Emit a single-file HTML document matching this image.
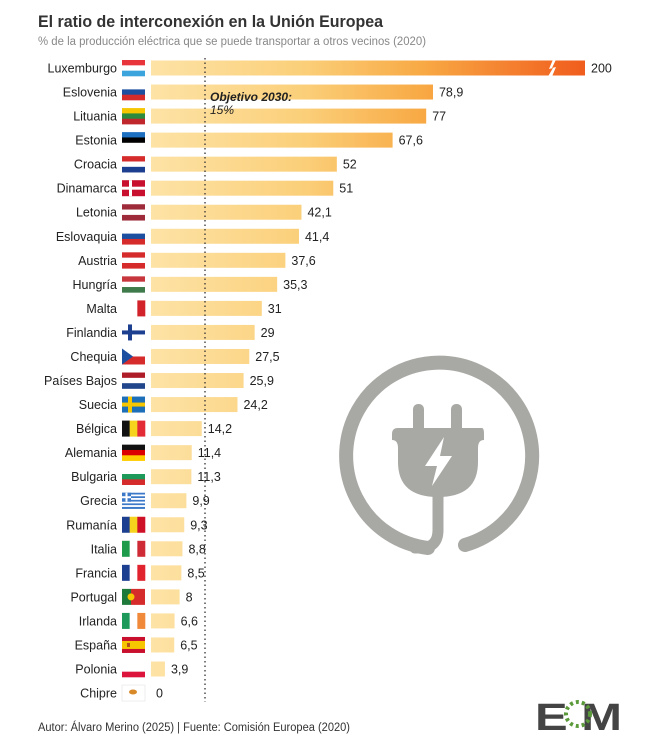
<!DOCTYPE html>
<html><head><meta charset="utf-8"><style>
body{margin:0;background:#fff;}
svg{display:block;font-family:"Liberation Sans",sans-serif;}
</style></head><body>
<svg id="chart" width="665" height="751" viewBox="0 0 665 751">
<defs>
<linearGradient id="bg" gradientUnits="userSpaceOnUse" x1="151" y1="0" x2="590" y2="0">
<stop offset="0" stop-color="#fde3a6"/><stop offset="0.35" stop-color="#fbcf79"/><stop offset="0.62" stop-color="#f8a944"/><stop offset="1" stop-color="#f05a1c"/>
</linearGradient>
</defs>
<text x="38" y="27" font-size="17" font-weight="bold" fill="#333" textLength="345" lengthAdjust="spacingAndGlyphs">El ratio de interconexión en la Unión Europea</text>
<text x="38" y="45" font-size="11.5" fill="#888" textLength="388" lengthAdjust="spacingAndGlyphs">% de la producción eléctrica que se puede transportar a otros vecinos (2020)</text>
<g id="bars"></g>
<line x1="205" y1="58" x2="205" y2="702" stroke="#333" stroke-width="1.3" stroke-dasharray="1.5,3"/>
<text x="210" y="101" font-size="12" font-weight="bold" font-style="italic" fill="#222">Objetivo 2030:</text>
<text x="210" y="114" font-size="12" font-style="italic" fill="#222">15%</text>
<g fill="#a8a8a4" stroke="#a8a8a4">
<path d="M428 548 A93 93 0 1 1 465 545" fill="none" stroke-width="14" stroke-linecap="round"/>
<path d="M438 495 L438 530 Q438 548 420 548 L415 548" fill="none" stroke-width="11" stroke-linecap="round"/>
<rect x="413" y="404" width="11" height="30" rx="5" stroke="none"/>
<rect x="451" y="404" width="11" height="30" rx="5" stroke="none"/>
<path d="M394 428 L482 428 Q484 428 484 434 L484 440 Q478 440 478 448 L478 462 Q478 497 438 497 Q398 497 398 462 L398 448 Q398 440 392 440 L392 434 Q392 428 398 428Z" stroke="none"/>
<path d="M444 437 L425 466 L437 466 L432 486 L452 456 L440 456 Z" fill="#fff" stroke="none"/>
</g>
<text x="38" y="731" font-size="11.5" fill="#333" textLength="312" lengthAdjust="spacingAndGlyphs">Autor: Álvaro Merino (2025) | Fuente: Comisión Europea (2020)</text>
<g>
<text x="535" y="730" font-size="38" font-weight="bold" fill="#444" textLength="87" lengthAdjust="spacingAndGlyphs">E  M</text>
<circle cx="578" cy="714" r="12" fill="none" stroke="#5a9a3a" stroke-width="4" stroke-dasharray="3,3"/>
</g>
</svg>
<script>
const countries=["Luxemburgo","Eslovenia","Lituania","Estonia","Croacia","Dinamarca","Letonia","Eslovaquia","Austria","Hungría","Malta","Finlandia","Chequia","Países Bajos","Suecia","Bélgica","Alemania","Bulgaria","Grecia","Rumanía","Italia","Francia","Portugal","Irlanda","España","Polonia","Chipre"];
const values=[200,78.9,77,67.6,52,51,42.1,41.4,37.6,35.3,31,29,27.5,25.9,24.2,14.2,11.4,11.3,9.9,9.3,8.8,8.5,8,6.6,6.5,3.9,0];
const valueLabels=["200","78,9","77","67,6","52","51","42,1","41,4","37,6","35,3","31","29","27,5","25,9","24,2","14,2","11,4","11,3","9,9","9,3","8,8","8,5","8","6,6","6,5","3,9","0"];
const flags=[["h","#e8343b","#fff","#3ba4dc"],["h","#fff","#1d4fa0","#d62b2b"],["h","#f6c600","#2b8a3e","#c0272d"],["h","#1d6fc0","#000","#fff"],["h","#d62b2b","#fff","#1d3f8f"],["dk"],["h","#9e2b3a","#fff","#9e2b3a"],["h","#fff","#1d4fa0","#d62b2b"],["h","#d62b2b","#fff","#d62b2b"],["h","#c6363c","#fff","#3f7a4a"],["v","#fff","#fff","#d2232a"],["fi"],["cz"],["h","#ae1c28","#fff","#21468b"],["se"],["v","#111","#f6d31c","#e32b36"],["h","#111","#dd0000","#ffce00"],["h","#fff","#1d9a5a","#d62b2b"],["gr"],["v","#1d3f8f","#f6d31c","#ce1126"],["v","#1d9a4a","#fff","#ce2b37"],["v","#1d3f8f","#fff","#e1232d"],["pt"],["v","#1d9a5a","#fff","#f08a3a"],["es"],["h","#fff","#fff","#dc143c"],["cy"]];
const x0=151, pxPer=3.574, xCapEnd=585, y0=68, step=24.04, bh=15;
const xScale=v=>x0+Math.min(v*pxPer,xCapEnd-x0);
const yScale=i=>y0+i*step;
const NS="http://www.w3.org/2000/svg";
const g=document.getElementById("bars");
function mk(t,a,p){const e=document.createElementNS(NS,t);for(const k in a)e.setAttribute(k,a[k]);(p||g).appendChild(e);return e;}
countries.forEach((c,i)=>{
 const y=yScale(i);
 const lab=mk("text",{x:117,y:y+4.5,"font-size":"12.5","text-anchor":"end",fill:"#222"});
 lab.textContent=c;
 
 
 const fg=mk("g",{});
 
 
 const fx=122,fy=y-8,fw=23,fh=16,f=flags[i];
 if(f[0]==="h"){for(let k=0;k<3;k++)mk("rect",{x:fx,y:fy+k*fh/3,width:fw,height:fh/3+0.3,fill:f[k+1]},fg);}
 else if(f[0]==="v"){for(let k=0;k<3;k++)mk("rect",{x:fx+k*fw/3,y:fy,width:fw/3+0.3,height:fh,fill:f[k+1]},fg);}
 else if(f[0]==="dk"){mk("rect",{x:fx,y:fy,width:fw,height:fh,fill:"#c8102e"},fg);mk("rect",{x:fx+7,y:fy,width:3,height:fh,fill:"#fff"},fg);mk("rect",{x:fx,y:fy+6.5,width:fw,height:3,fill:"#fff"},fg);}
 else if(f[0]==="fi"){mk("rect",{x:fx,y:fy,width:fw,height:fh,fill:"#fff"},fg);mk("rect",{x:fx+6,y:fy,width:4,height:fh,fill:"#1d3f8f"},fg);mk("rect",{x:fx,y:fy+6,width:fw,height:4,fill:"#1d3f8f"},fg);}
 else if(f[0]==="se"){mk("rect",{x:fx,y:fy,width:fw,height:fh,fill:"#1d6fb8"},fg);mk("rect",{x:fx+6,y:fy,width:4,height:fh,fill:"#f6c600"},fg);mk("rect",{x:fx,y:fy+6,width:fw,height:4,fill:"#f6c600"},fg);}
 else if(f[0]==="cz"){mk("rect",{x:fx,y:fy,width:fw,height:fh/2,fill:"#fff"},fg);mk("rect",{x:fx,y:fy+fh/2,width:fw,height:fh/2,fill:"#d62b2b"},fg);mk("polygon",{points:`${fx},${fy} ${fx+11},${fy+8} ${fx},${fy+16}`,fill:"#1d4fa0"},fg);}
 else if(f[0]==="gr"){for(let k=0;k<9;k++)mk("rect",{x:fx,y:fy+k*fh/9,width:fw,height:fh/9+0.2,fill:k%2?"#fff":"#3b78c8"},fg);mk("rect",{x:fx,y:fy,width:9,height:9,fill:"#3b78c8"},fg);mk("rect",{x:fx+3.5,y:fy,width:2,height:9,fill:"#fff"},fg);mk("rect",{x:fx,y:fy+3.5,width:9,height:2,fill:"#fff"},fg);}
 else if(f[0]==="pt"){mk("rect",{x:fx,y:fy,width:9,height:fh,fill:"#1d7a3a"},fg);mk("rect",{x:fx+9,y:fy,width:14,height:fh,fill:"#d62b2b"},fg);mk("circle",{cx:fx+9,cy:fy+8,r:3.5,fill:"#f6c600"},fg);}
 else if(f[0]==="es"){mk("rect",{x:fx,y:fy,width:fw,height:fh,fill:"#c8102e"},fg);mk("rect",{x:fx,y:fy+4,width:fw,height:8,fill:"#f6c600"},fg);mk("rect",{x:fx+5,y:fy+6,width:3,height:4,fill:"#b5521c"},fg);}
 else if(f[0]==="cy"){mk("rect",{x:fx,y:fy,width:fw,height:fh,fill:"#fff",stroke:"#ddd","stroke-width":0.5},fg);mk("ellipse",{cx:fx+11,cy:fy+7,rx:4,ry:2.5,fill:"#d88a2a"},fg);}
 if(values[i]>0){
  const b=mk("rect",{x:x0,y:y-bh/2,width:xScale(values[i])-x0,height:bh,fill:"url(#bg)"});
  
  
 }
 if(values[i]*pxPer>xCapEnd-x0){
  const br=mk("path",{d:`M553 ${y-bh/2-1} L549 ${y+1} L553 ${y} L548 ${y+bh/2+1} L552 ${y+bh/2+1} L556 ${y-1} L552 ${y} L556 ${y-bh/2-1}Z`,fill:"#fff"});
  
  
 }
 const vl=mk("text",{x:xScale(values[i])+(values[i]>0?6:5),y:y+4.5,"font-size":"12.5",fill:"#222"});
 vl.textContent=valueLabels[i];
 
 
});
</script>
</body></html>
